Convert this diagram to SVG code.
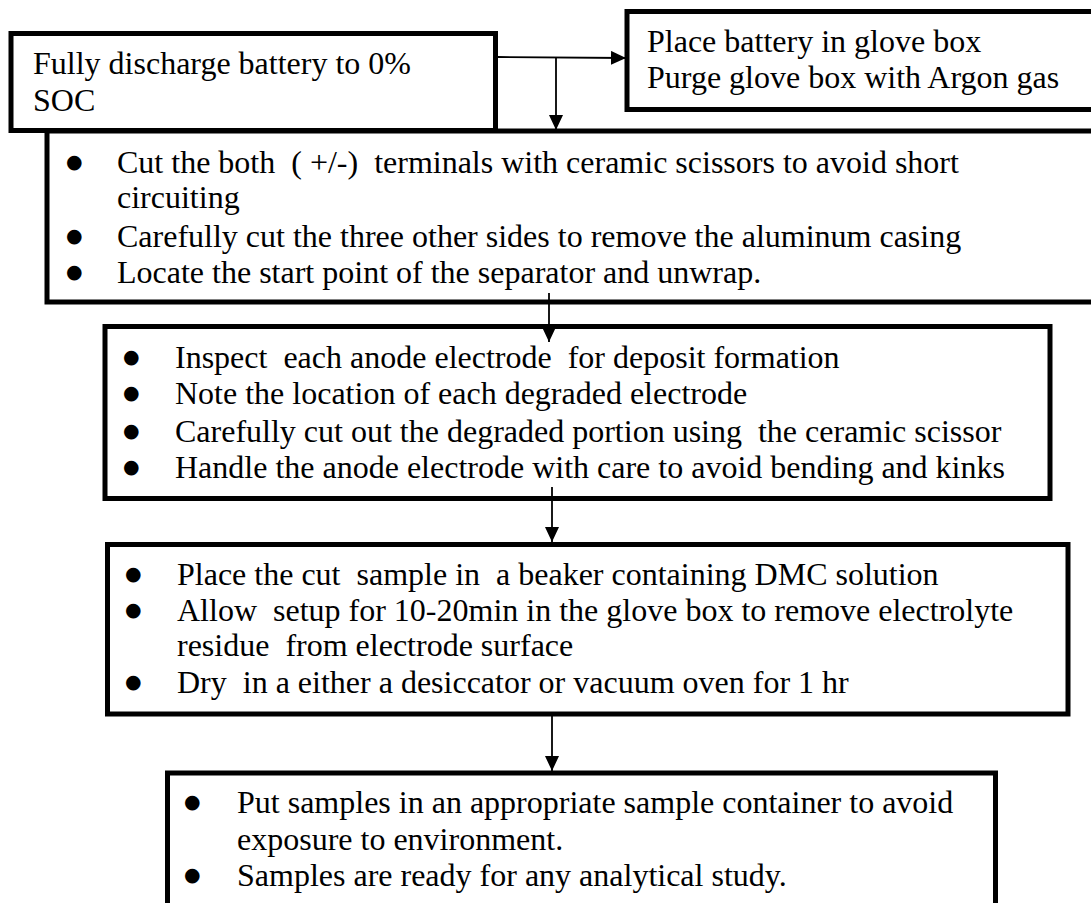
<svg xmlns="http://www.w3.org/2000/svg" width="1091" height="903" viewBox="0 0 1091 903">
<defs>
<style>
.box{fill:#fff;stroke:#000;stroke-width:5}
.t{font-family:"Liberation Serif","Times New Roman",serif;font-size:32px;fill:#000;white-space:pre}
.b{font-family:"DejaVu Sans",sans-serif;font-size:19px;fill:#000}
.c{stroke:#000;stroke-width:1.8;fill:none;marker-end:url(#ah)}
</style>
<marker id="ah" markerUnits="userSpaceOnUse" markerWidth="16" markerHeight="14" refX="15" refY="7" orient="auto">
<path d="M0,0 L15,7 L0,14 z" fill="#000"/>
</marker>
</defs>
<rect width="1091" height="903" fill="#fff"/>
<g id="n1">
<rect class="box" x="11" y="33.5" width="484.5" height="97"/>
<text class="t" x="33" y="74">Fully discharge battery to 0%</text>
<text class="t" x="33" y="111">SOC</text>
</g>
<g id="n2">
<rect class="box" x="627" y="11.5" width="480" height="98"/>
<text class="t" x="647" y="52">Place battery in glove box</text>
<text class="t" x="647" y="88">Purge glove box with Argon gas</text>
</g>
<g id="n3">
<rect class="box" x="47" y="131" width="1060" height="171"/>
<text class="b" x="66" y="168">●</text>
<text class="t" x="117" y="173" xml:space="preserve">Cut the both  ( +/-)  terminals with ceramic scissors to avoid short</text>
<text class="t" x="117" y="208">circuiting</text>
<text class="b" x="66" y="242">●</text>
<text class="t" x="117" y="247">Carefully cut the three other sides to remove the aluminum casing</text>
<text class="b" x="66" y="278">●</text>
<text class="t" x="117" y="283">Locate the start point of the separator and unwrap.</text>
</g>
<g id="n4">
<rect class="box" x="105" y="326.5" width="945" height="172"/>
<text class="b" x="123" y="363">●</text>
<text class="t" x="175" y="368" xml:space="preserve">Inspect  each anode electrode  for deposit formation</text>
<text class="b" x="123" y="399">●</text>
<text class="t" x="175" y="404">Note the location of each degraded electrode</text>
<text class="b" x="123" y="437">●</text>
<text class="t" x="175" y="442" xml:space="preserve">Carefully cut out the degraded portion using  the ceramic scissor</text>
<text class="b" x="123" y="473">●</text>
<text class="t" x="175" y="478">Handle the anode electrode with care to avoid bending and kinks</text>
</g>
<g id="n5">
<rect class="box" x="107.5" y="544.5" width="960.5" height="169.5"/>
<text class="b" x="125" y="580">●</text>
<text class="t" x="177" y="585" xml:space="preserve">Place the cut  sample in  a beaker containing DMC solution</text>
<text class="b" x="125" y="616">●</text>
<text class="t" x="177" y="621" xml:space="preserve">Allow  setup for 10-20min in the glove box to remove electrolyte</text>
<text class="t" x="177" y="656" xml:space="preserve">residue  from electrode surface</text>
<text class="b" x="125" y="688">●</text>
<text class="t" x="177" y="693" xml:space="preserve">Dry  in a either a desiccator or vacuum oven for 1 hr</text>
</g>
<g id="n6">
<rect class="box" x="167.5" y="773" width="828" height="150"/>
<text class="b" x="184" y="808">●</text>
<text class="t" x="237" y="813">Put samples in an appropriate sample container to avoid</text>
<text class="t" x="237" y="850">exposure to environment.</text>
<text class="b" x="184" y="881">●</text>
<text class="t" x="237" y="886">Samples are ready for any analytical study.</text>
</g>
<g id="connectors">
<line class="c" x1="498" y1="57" x2="626" y2="58"/>
<line class="c" x1="556" y1="57.5" x2="556" y2="130"/>
<line class="c" x1="549" y1="293" x2="549" y2="342"/>
<line class="c" x1="552" y1="487" x2="552" y2="542"/>
<line class="c" x1="552" y1="714" x2="552" y2="771"/>
</g>
</svg>
